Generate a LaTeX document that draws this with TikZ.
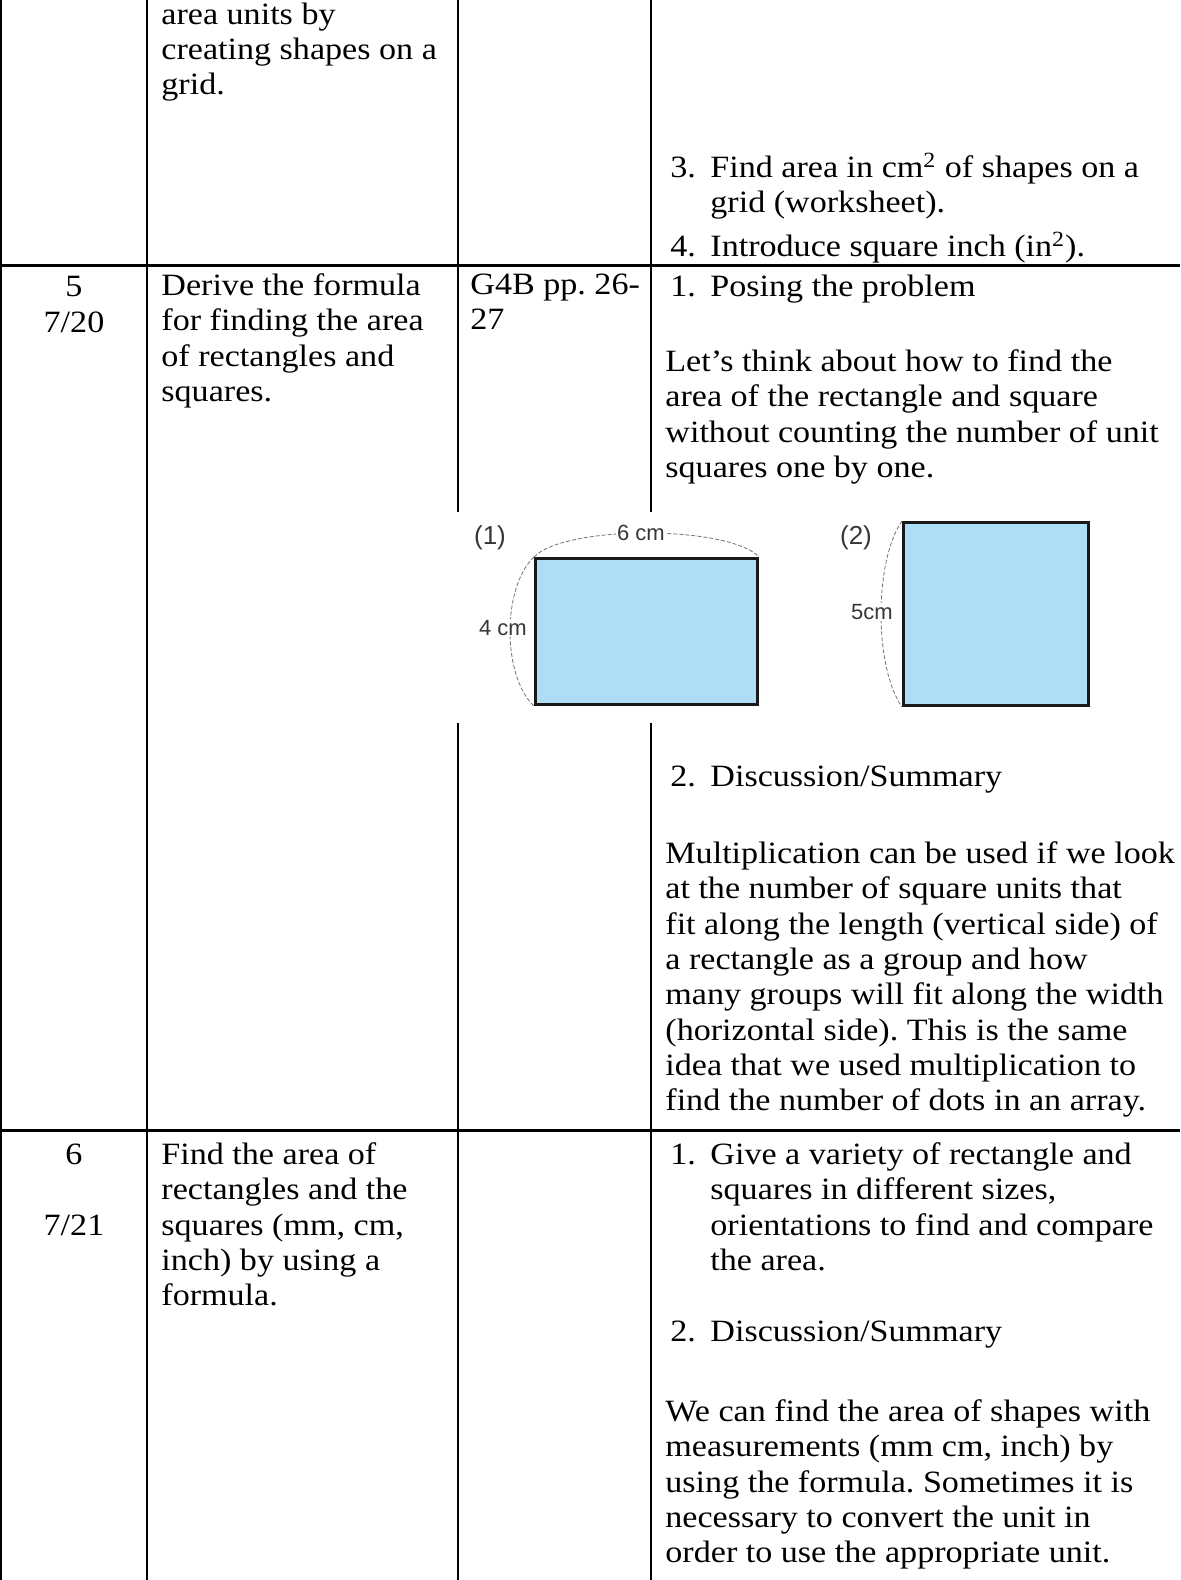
\documentclass[tikz,border=0pt]{standalone}
\usepackage{fontspec}
\setmainfont[FakeStretch=1.10]{Liberation Serif}
\newfontfamily\figfont{Liberation Sans}
\definecolor{areablue}{RGB}{174,222,245}
\definecolor{labelgray}{RGB}{55,55,55}
\newcommand{\itemno}[1]{\makebox[20pt][l]{#1}}
\newcommand{\itemgap}{\hspace*{20pt}}
\frenchspacing
\begin{document}
\begin{tikzpicture}[x=0.5pt,y=-0.5pt,
    cell/.style={anchor=north west,yshift=12.355pt,inner sep=0pt,align=left,
        execute at begin node=\strut,font=\fontsize{15.5}{17.65}\selectfont},
    num/.style={anchor=base,inner sep=0pt,font=\fontsize{15.5}{17.65}\selectfont},
    rule/.style={line width=1pt},
    rowrule/.style={line width=1.5pt},
    areabox/.style={draw=black!90,line width=1.5pt,fill=areablue,inner sep=0pt,anchor=north west},
    dimline/.style={draw=black!55,line width=0.4pt,dash pattern=on 2pt off 1pt},
    dimlabel/.style={fill=white,inner sep=0.5pt,text=labelgray,font=\figfont\fontsize{11}{12}\selectfont},
    figlabel/.style={inner sep=0pt,text=labelgray,font=\figfont\fontsize{13}{14}\selectfont}]
    \useasboundingbox (0,0) rectangle (1180,1580);
    % table rules
    \draw[rule] (1,0) -- (1,1580);
    \draw[rule] (147,0) -- (147,1580);
    \draw[rule] (458,0) -- (458,512);
    \draw[rule] (458,723) -- (458,1580);
    \draw[rule] (651,0) -- (651,512);
    \draw[rule] (651,723) -- (651,1580);
    \draw[rowrule] (0,265) -- (1180,265);
    \draw[rowrule] (0,1130) -- (1180,1130);
    % top row
    \node (objtop) [cell] at (161,27) {area units by\\creating shapes on a\\grid.};
    \node (griditem) [cell] at (670,177) {\itemno{3.}Find area in cm\textsuperscript{2} of shapes on a\\\itemgap grid (worksheet).};
    \node (inchitem) [cell] at (670,256) {\itemno{4.}Introduce square inch (in\textsuperscript{2}).};
    % lesson 5
    \node (weekfive) [num] at (74,296) {5};
    \node (datefive) [num] at (74,332) {7/20};
    \node (objfive) [cell] at (161,298) {Derive the formula\\for finding the area\\of rectangles and\\squares.};
    \node (reffive) [cell] at (470,298) {G4B pp. 26-\\27};
    \node (poseitem) [cell] at (670,296) {\itemno{1.}Posing the problem};
    \node (posebody) [cell] at (665,374) {Let’s think about how to find the\\area of the rectangle and square\\without counting the number of unit\\squares one by one.};
    % textbook figure
    \node (rectone) [areabox,minimum width=111pt,minimum height=73pt] at (534,557) {};
    \node (squaretwo) [areabox,minimum width=92.5pt,minimum height=91.5pt] at (902,521) {};
    \draw[dimline] (rectone.north west) .. controls +(30,-32) and +(-30,-32) .. (rectone.north east);
    \draw[dimline] (rectone.north west) .. controls +(-32,30) and +(-32,-30) .. (rectone.south west);
    \draw[dimline] (squaretwo.north west) .. controls +(-28,40) and +(-28,-40) .. (squaretwo.south west);
    \node (figone) [figlabel] at (490,538) {(1)};
    \node (figtwo) [figlabel] at (856,538) {(2)};
    \node (sixcm) [dimlabel] at (641,533) {6 cm};
    \node (fourcm) [dimlabel] at (503,628) {4 cm};
    \node (fivecm) [dimlabel] at (872,612) {5cm};
    \node (discitem) [cell] at (670,786) {\itemno{2.}Discussion/Summary};
    \node (discbody) [cell] at (665,866) {Multiplication can be used if we look\\at the number of square units that\\fit along the length (vertical side) of\\a rectangle as a group and how\\many groups will fit along the width\\(horizontal side). This is the same\\idea that we used multiplication to\\find the number of dots in an array.};
    % lesson 6
    \node (weeksix) [num] at (74,1164) {6};
    \node (datesix) [num] at (74,1235) {7/21};
    \node (objsix) [cell] at (161,1167) {Find the area of\\rectangles and the\\squares (mm, cm,\\inch) by using a\\formula.};
    \node (giveitem) [cell] at (670,1167) {\itemno{1.}Give a variety of rectangle and\\\itemgap squares in different sizes,\\\itemgap orientations to find and compare\\\itemgap the area.};
    \node (sumitem) [cell] at (670,1341) {\itemno{2.}Discussion/Summary};
    \node (sumbody) [cell] at (665,1424) {We can find the area of shapes with\\measurements (mm cm, inch) by\\using the formula. Sometimes it is\\necessary to convert the unit in\\order to use the appropriate unit.};
\end{tikzpicture}
\end{document}
